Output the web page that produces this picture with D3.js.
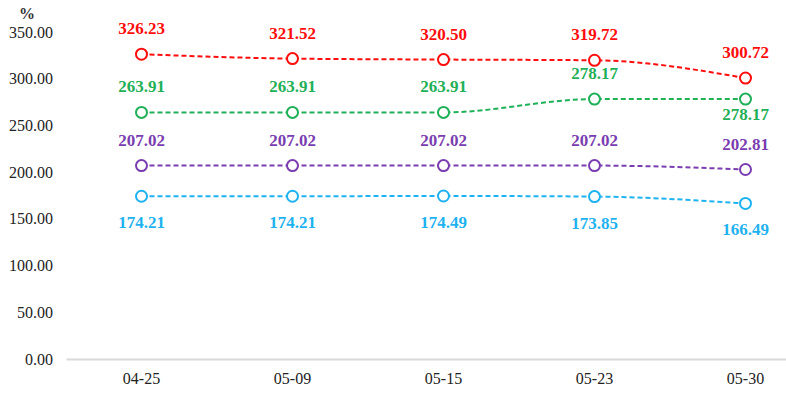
<!DOCTYPE html>
<html>
<head>
<meta charset="utf-8">
<script src="https://cdn.jsdelivr.net/npm/d3@7"></script>
<style>
  body { margin: 0; background: #fff; }
  svg { display: block; }
</style>
</head>
<body>
<svg width="786" height="397"></svg>
<script>
// chart data
const dates = ["04-25", "05-09", "05-15", "05-23", "05-30"];
const redVals = [326.23, 321.52, 320.50, 319.72, 300.72];
const greenVals = [263.91, 263.91, 263.91, 278.17, 278.17];
const purpleVals = [207.02, 207.02, 207.02, 207.02, 202.81];
const blueVals = [174.21, 174.21, 174.49, 173.85, 166.49];
const yTicks = [0, 50, 100, 150, 200, 250, 300, 350];

// label placement: above or below each point
const series = [
  { vals: redVals, color: "#ff0d0d", pos: ["up", "up", "up", "up", "up"] },
  { vals: greenVals, color: "#1fb058", pos: ["up", "up", "up", "up", "down2"] },
  { vals: purpleVals, color: "#7a3db0", pos: ["up", "up", "up", "up", "up"] },
  { vals: blueVals, color: "#1fb2f0", pos: ["down", "down", "down", "down", "down"] }
];

let svg = d3.select("svg");

let xScale = d3.scaleBand()
  .domain(dates)
  .range([66, 821]);

let yScale = d3.scaleLinear()
  .domain([0, 350])
  .range([359, 32]);

const serif = "'Liberation Serif', 'Times New Roman', serif";

// y tick labels (no axis line)
svg.append("g")
  .selectAll("text")
  .data(yTicks)
  .enter()
  .append("text")
  .attr("x", 53)
  .attr("y", d => yScale(d))
  .attr("dy", "0.35em")
  .attr("text-anchor", "end")
  .attr("font-family", serif)
  .attr("font-size", "16px")
  .attr("fill", "#222")
  .text(d => d.toFixed(2));

svg.append("text")
  .attr("x", 27)
  .attr("y", 19)
  .attr("text-anchor", "middle")
  .attr("font-family", serif)
  .attr("font-size", "16px")
  .attr("font-weight", "bold")
  .attr("fill", "#333")
  .text("%");

// x axis
let xAxis = svg.append("g")
  .attr("transform", `translate(0, ${yScale(0)})`)
  .call(d3.axisBottom(xScale).tickSize(0).tickPadding(14));
xAxis.select(".domain").attr("stroke", "#d9d9d9").attr("stroke-width", 2);
xAxis.selectAll("text")
  .attr("font-family", serif)
  .attr("font-size", "16px")
  .attr("fill", "#222");

let cx = d => xScale(d) + xScale.bandwidth() / 2;

let line = d3.line()
  .x((d, i) => cx(dates[i]))
  .y(d => yScale(d))
  .curve(d3.curveMonotoneX);

series.forEach(s => {
  svg.append("path")
    .datum(s.vals)
    .attr("d", line)
    .attr("fill", "none")
    .attr("stroke", s.color)
    .attr("stroke-width", 2)
    .attr("stroke-dasharray", "5,3");

  svg.append("g")
    .selectAll("circle")
    .data(s.vals)
    .enter()
    .append("circle")
    .attr("cx", (d, i) => cx(dates[i]))
    .attr("cy", d => yScale(d))
    .attr("r", 5.5)
    .attr("fill", "#fff")
    .attr("stroke", s.color)
    .attr("stroke-width", 2);

  svg.append("g")
    .selectAll("text")
    .data(s.vals)
    .enter()
    .append("text")
    .attr("x", (d, i) => cx(dates[i]))
    .attr("y", (d, i) => {
      let p = s.pos[i];
      if (p == "up") return yScale(d) - 20;
      if (p == "down2") return yScale(d) + 21;
      return yScale(d) + 32;
    })
    .attr("text-anchor", "middle")
    .attr("font-family", serif)
    .attr("font-size", "17px")
    .attr("font-weight", "bold")
    .attr("fill", s.color)
    .text(d => d.toFixed(2));
});
</script>
</body>
</html>
